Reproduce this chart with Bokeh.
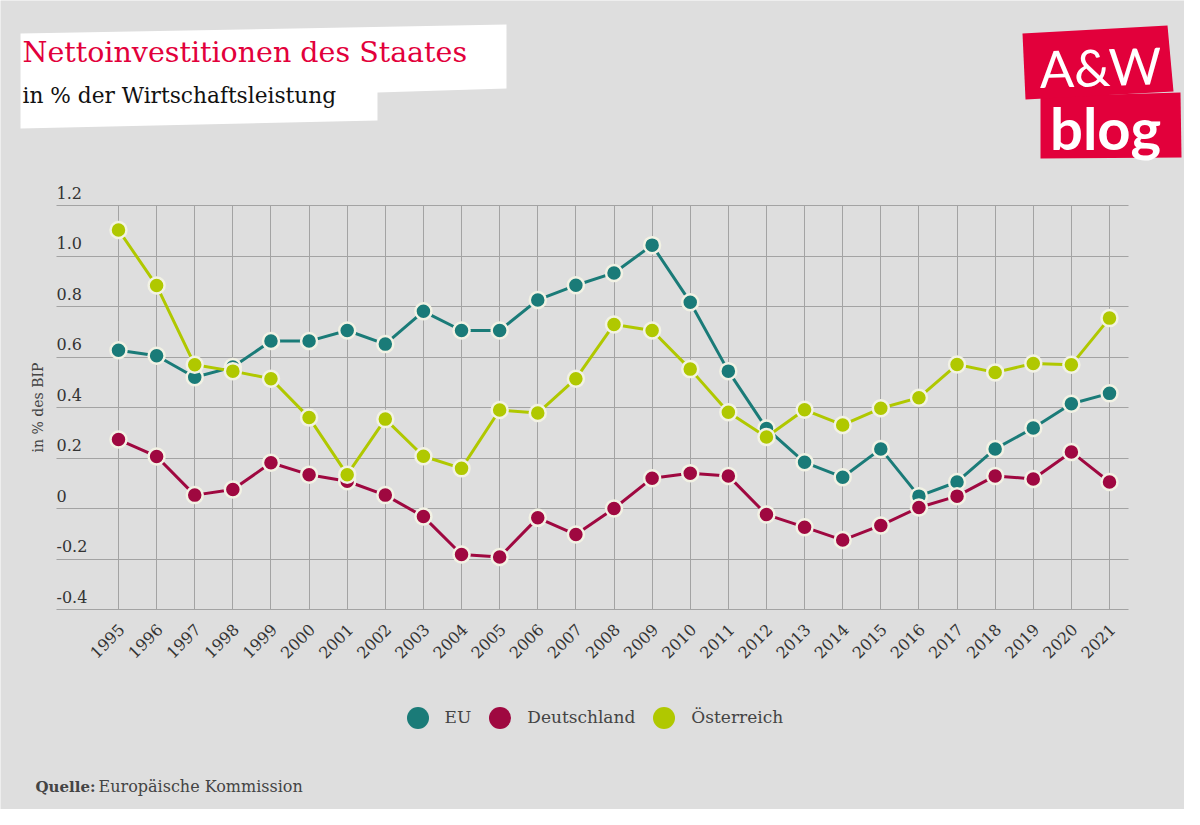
import math
from bokeh.plotting import figure
from bokeh.models import (Range1d, FixedTicker, Label, LabelSet, ColumnDataSource,
                          Legend, LegendItem, PolyAnnotation)
from bokeh.embed import file_html
from bokeh.resources import INLINE
from bokeh.core.properties import value

# ---------------- data ----------------
years = list(range(1995, 2022))
eu = [0.627, 0.605, 0.520, 0.560, 0.663, 0.663, 0.705, 0.651, 0.781, 0.705, 0.705,
      0.826, 0.884, 0.933, 1.043, 0.817, 0.544, 0.317, 0.183, 0.124, 0.236, 0.049,
      0.105, 0.236, 0.319, 0.415, 0.456]
de = [0.273, 0.206, 0.053, 0.075, 0.181, 0.134, 0.108, 0.053, -0.032, -0.182, -0.192,
      -0.037, -0.103, 0.000, 0.120, 0.140, 0.129, -0.024, -0.074, -0.125, -0.067, 0.004,
      0.049, 0.129, 0.117, 0.224, 0.105]
at = [1.103, 0.883, 0.569, 0.544, 0.514, 0.360, 0.134, 0.354, 0.207, 0.159, 0.390,
      0.378, 0.514, 0.729, 0.705, 0.552, 0.381, 0.283, 0.391, 0.331, 0.397, 0.439,
      0.570, 0.539, 0.574, 0.569, 0.754]
series_names = ["EU", "Deutschland", "Österreich"]
year_labels = [str(y) for y in years]
y_ticks = [-0.4, -0.2, 0.0, 0.2, 0.4, 0.6, 0.8, 1.0, 1.2]
y_tick_labels = ["-0.4", "-0.2", "0", "0.2", "0.4", "0.6", "0.8", "1.0", "1.2"]

title_text = "Nettoinvestitionen des Staates"
subtitle_text = "in % der Wirtschaftsleistung"
y_title = "in % des BIP"
source_bold = "Quelle:"
source_text = "Europäische Kommission"

# ---------------- styling ----------------
BG = "#dedede"
GRID = "#a3a3a3"
colors = ["#1a7b78", "#9f0840", "#b0c800"]
RED = "#e2003b"
SERIF = "DejaVu Serif"

W, H = 1184, 809
# chart area inside the canvas (pixels from top-left of the figure)
X0_PX, X1_PX = 118, 1109      # centre of first / last year
Y_LO_PX, Y_HI_PX = 609, 205   # y = -0.4 / y = 1.2
GRID_L_PX, GRID_R_PX = 56, 1128

ppy = (X1_PX - X0_PX) / (years[-1] - years[0])
ppu = (Y_LO_PX - Y_HI_PX) / (y_ticks[-1] - y_ticks[0])

def xd(px):
    return years[0] + (px - X0_PX) / ppy

def yd(py):
    return y_ticks[0] + (Y_LO_PX - py) / ppu

p = figure(width=W, height=H, output_backend="svg", toolbar_location=None,
           x_range=Range1d(xd(0), xd(W)), y_range=Range1d(yd(H), yd(0)),
           min_border=0, background_fill_color=BG, border_fill_color=BG)
p.outline_line_color = None
p.xaxis.visible = False
p.yaxis.visible = False

p.xgrid.ticker = FixedTicker(ticks=years)
p.ygrid.ticker = FixedTicker(ticks=y_ticks)
p.xgrid.cross_bounds = (y_ticks[0], y_ticks[-1])
p.ygrid.cross_bounds = (xd(GRID_L_PX), xd(GRID_R_PX))
for g in (p.xgrid, p.ygrid):
    g.grid_line_color = GRID
    g.grid_line_width = 1

# y tick labels (inside plot, above grid lines)
ysrc = ColumnDataSource(dict(x=[xd(GRID_L_PX)] * len(y_ticks), y=y_ticks, t=y_tick_labels))
p.add_layout(LabelSet(x="x", y="y", text="t", source=ysrc, y_offset=7,
                      text_align="left", text_baseline="alphabetic",
                      text_font=value(SERIF), text_font_size="16px", text_color="#333333"))

# x tick labels (rotated)
xsrc = ColumnDataSource(dict(x=years, y=[y_ticks[0]] * len(years), t=year_labels))
p.add_layout(LabelSet(x="x", y="y", text="t", source=xsrc, x_offset=3, y_offset=-17,
                      angle=math.pi / 4, text_align="right", text_baseline="middle",
                      text_font=value(SERIF), text_font_size="16px", text_color="#333333"))

# series
for vals, c in zip([eu, de, at], colors):
    src = ColumnDataSource(dict(x=years, y=vals))
    p.line("x", "y", source=src, line_color=c, line_width=3)
    p.scatter("x", "y", source=src, size=16, fill_color=c, line_color="#f2f2e4", line_width=2.5)

# helpers: reference page coords -> screen units (from bottom-left of the canvas)
def sx(X):
    return X

def sy(Y):
    return H - Y

def base(Y, fs):
    # baseline position corrected for how the label baseline is rendered
    return sy(Y) + 0.37 * fs

# legend (dummy renderers so only the coloured discs show)
items = []
for name, c in zip(series_names, colors):
    r = p.scatter(x=[float("nan")], y=[float("nan")], size=22, fill_color=c, line_color=None)
    items.append(LegendItem(label=name, renderers=[r]))
legend = Legend(items=items, orientation="horizontal", location=(sx(417) - 27.5, sy(717) - 27.5),
                glyph_width=55, glyph_height=55, label_standoff=0, spacing=1,
                padding=0, margin=0, background_fill_alpha=0, border_line_color=None,
                label_text_font=SERIF, label_text_font_size="17px", label_text_color="#444444")
p.add_layout(legend, "center")

# white title box
p.add_layout(PolyAnnotation(xs=[sx(v) for v in [20, 506, 506, 377, 377, 20]],
                            ys=[sy(v) for v in [33, 24, 88, 92, 120, 128]],
                            xs_units="screen", ys_units="screen",
                            fill_color="white", fill_alpha=1, line_color=None))
p.add_layout(Label(x=sx(22), y=base(63, 28.5), x_units="screen", y_units="screen", text=title_text,
                   text_font=SERIF, text_font_size="28.5px", text_color=RED,
                   text_align="left", text_baseline="alphabetic"))
p.add_layout(Label(x=sx(22), y=base(103, 21.7), x_units="screen", y_units="screen", text=subtitle_text,
                   text_font=SERIF, text_font_size="21.7px", text_color="#111111",
                   text_align="left", text_baseline="alphabetic"))

# logo
p.add_layout(PolyAnnotation(xs=[sx(v) for v in [1040, 1180, 1181, 1040]],
                            ys=[sy(v) for v in [96, 92, 157, 158]],
                            xs_units="screen", ys_units="screen",
                            fill_color=RED, fill_alpha=1, line_color=None))
p.add_layout(PolyAnnotation(xs=[sx(v) for v in [1022, 1167, 1173, 1025]],
                            ys=[sy(v) for v in [33, 25, 91, 99]],
                            xs_units="screen", ys_units="screen",
                            fill_color=RED, fill_alpha=1, line_color=None))
p.add_layout(Label(x=sx(1100), y=base(85, 51), x_units="screen", y_units="screen", text="A&W",
                   text_font="Lato", text_font_size="51px", text_color="white",
                   text_align="center", text_baseline="alphabetic", angle=0.03))
p.add_layout(Label(x=sx(1105), y=base(148, 58), x_units="screen", y_units="screen", text="blog",
                   text_font="Lato", text_font_style="bold", text_font_size="58px",
                   text_color="white", text_align="center", text_baseline="alphabetic"))

# y-axis title
p.add_layout(Label(x=sx(37), y=sy(407), x_units="screen", y_units="screen", text=y_title,
                   angle=math.pi / 2, text_font=SERIF, text_font_size="14px",
                   text_color="#444444", text_align="center", text_baseline="middle"))

# source
p.add_layout(Label(x=sx(35), y=base(792, 15), x_units="screen", y_units="screen", text=source_bold,
                   text_font=SERIF, text_font_style="bold", text_font_size="15px",
                   text_color="#444444", text_align="left", text_baseline="alphabetic"))
p.add_layout(Label(x=sx(98), y=base(792, 16), x_units="screen", y_units="screen", text=source_text,
                   text_font=SERIF, text_font_size="16px",
                   text_color="#444444", text_align="left", text_baseline="alphabetic"))

open("out.html", "w").write(file_html(p, INLINE))
